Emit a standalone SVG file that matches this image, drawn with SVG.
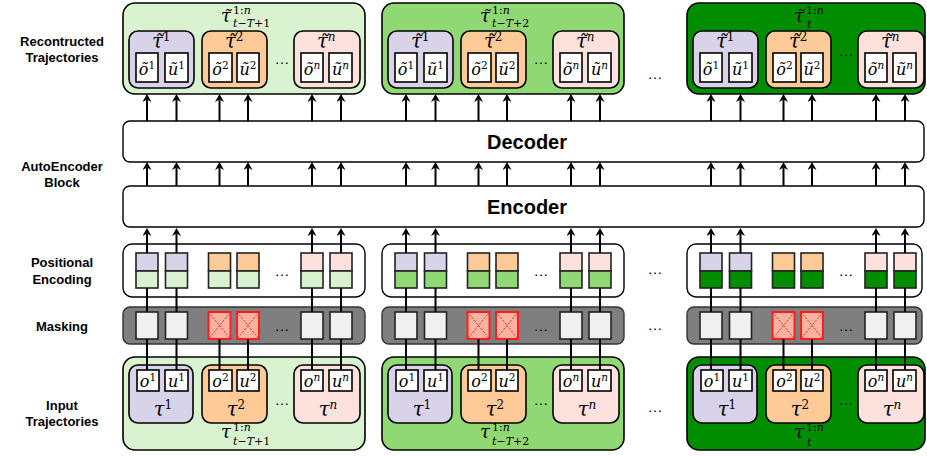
<svg xmlns="http://www.w3.org/2000/svg" xmlns:xlink="http://www.w3.org/1999/xlink" width="927" height="456" viewBox="0 0 927 456">
  <style>
    .side { font-family: "Liberation Sans", Arial, sans-serif; font-weight: bold; font-size: 13px; text-anchor: middle; fill: #000; }
    .big { font-family: "Liberation Sans", Arial, sans-serif; font-weight: bold; font-size: 20px; text-anchor: middle; fill: #000; }
    .m { font-family: "DejaVu Serif", "Liberation Serif", serif; font-style: italic; fill: #000; }
    .mc { text-anchor: middle; }
    .cellt { font-size: 16px; }
    .csup { font-size: 10.5px; }
    .lbl { font-size: 19.5px; }
    .ttl { font-size: 18px; }
    .sm { font-size: 11px; }
    .lsup { font-size: 12px; }
    .up { font-style: normal; }
    .dots { font-family: "Liberation Sans", Arial, sans-serif; font-size: 15px; text-anchor: middle; fill: #000; }
    .outer { stroke: #000; stroke-width: 1.6; }
    .inner { stroke: #000; stroke-width: 1.6; }
    .cell { fill: #fff; stroke: #000; stroke-width: 1.6; }
    .box { fill: #fff; stroke: #000; stroke-width: 1.4; }
    .g1 { fill: #d9f2d0; }
    .g2 { fill: #8fd874; }
    .g3 { fill: #008e00; }
    .c1 { fill: #d9d3e9; }
    .c2 { fill: #fdca98; }
    .cn { fill: #fde1dc; }
    .sq { stroke: #222; stroke-width: 1.6; }
    .maskbg { fill: #7f7f7f; stroke: #333; stroke-width: 1.4; }
    .keep { fill: #f0f0f0; stroke: #222; stroke-width: 1.6; }
    .drop { fill: #f9b3a0; stroke: #ff1e1e; stroke-width: 2; }
    .cross { stroke: #ff1e1e; stroke-width: 1; stroke-dasharray: 2 1.5; fill: none; }
    .wire { stroke: #000; stroke-width: 2; fill: none; }
    .arr { marker-end: url(#ah); }
  </style>
  <defs>
    <marker id="ah" viewBox="0 0 8 9" refX="2.5" refY="4.5" markerWidth="8" markerHeight="9" markerUnits="userSpaceOnUse" orient="auto">
      <path d="M0,0 L8,4.5 L0,9 L2.5,4.5 z" fill="#000"/>
    </marker>

    <!-- contents of a reconstructed trajectory block -->
    <g id="tpl-recon">
      <rect class="inner c1" x="129" y="31" width="65" height="57" rx="9"/>
      <rect class="inner c2" x="202" y="31" width="65" height="57" rx="9"/>
      <rect class="inner cn" x="294" y="31" width="66" height="57" rx="9"/>
      <text class="m lbl" x="152" y="48">τ<tspan class="lsup up" dy="-7">1</tspan></text>
      <text class="m lbl mc" x="158.5" y="49">˜</text>
      <text class="m lbl" x="225" y="48">τ<tspan class="lsup up" dy="-7">2</tspan></text>
      <text class="m lbl mc" x="231.5" y="49">˜</text>
      <text class="m lbl" x="317" y="48">τ<tspan class="lsup" dy="-7">n</tspan></text>
      <text class="m lbl mc" x="323.5" y="49">˜</text>
      <rect class="cell" x="136" y="53" width="22" height="29"/>
      <rect class="cell" x="165" y="53" width="23" height="29"/>
      <rect class="cell" x="209" y="53" width="23" height="29"/>
      <rect class="cell" x="237" y="53" width="22" height="29"/>
      <rect class="cell" x="301" y="53" width="22" height="29"/>
      <rect class="cell" x="329" y="53" width="23" height="29"/>
      <text class="m mc cellt" x="147" y="75">õ<tspan class="csup up" dy="-6">1</tspan></text>
      <text class="m mc cellt" x="176.5" y="75">ũ<tspan class="csup up" dy="-6">1</tspan></text>
      <text class="m mc cellt" x="220.5" y="75">õ<tspan class="csup up" dy="-6">2</tspan></text>
      <text class="m mc cellt" x="248" y="75">ũ<tspan class="csup up" dy="-6">2</tspan></text>
      <text class="m mc cellt" x="312" y="75">õ<tspan class="csup" dy="-6">n</tspan></text>
      <text class="m mc cellt" x="340.5" y="75">ũ<tspan class="csup" dy="-6">n</tspan></text>
    </g>

    <!-- positional encoding squares; lower halves follow the color attribute -->
    <g id="tpl-pe">
      <rect class="sq c1" x="136" y="253" width="22" height="18"/>
      <rect class="sq c1" x="165.5" y="253" width="22" height="18"/>
      <rect class="sq c2" x="208.5" y="253" width="22" height="18"/>
      <rect class="sq c2" x="237" y="253" width="22" height="18"/>
      <rect class="sq cn" x="301" y="253" width="22" height="18"/>
      <rect class="sq cn" x="330" y="253" width="22" height="18"/>
      <g fill="currentColor">
        <rect class="sq" x="136" y="271" width="22" height="17"/>
        <rect class="sq" x="165.5" y="271" width="22" height="17"/>
        <rect class="sq" x="208.5" y="271" width="22" height="17"/>
        <rect class="sq" x="237" y="271" width="22" height="17"/>
        <rect class="sq" x="301" y="271" width="22" height="17"/>
        <rect class="sq" x="330" y="271" width="22" height="17"/>
      </g>
      <text class="dots" x="282" y="276">…</text>
    </g>

    <!-- masking cells -->
    <g id="tpl-mask">
      <rect class="keep" x="136" y="312" width="22" height="27"/>
      <rect class="keep" x="165.5" y="312" width="22" height="27"/>
      <rect class="drop" x="208.5" y="312" width="22" height="27"/>
      <path class="cross" d="M208.5,312 L230.5,339 M230.5,312 L208.5,339"/>
      <rect class="drop" x="237" y="312" width="22" height="27"/>
      <path class="cross" d="M237,312 L259,339 M259,312 L237,339"/>
      <rect class="keep" x="301" y="312" width="22" height="27"/>
      <rect class="keep" x="330" y="312" width="22" height="27"/>
      <text class="dots" x="282" y="331">…</text>
    </g>

    <!-- contents of an input trajectory block -->
    <g id="tpl-input">
      <rect class="inner c1" x="129" y="365" width="64" height="58" rx="9"/>
      <rect class="inner c2" x="202" y="365" width="65" height="58" rx="9"/>
      <rect class="inner cn" x="294" y="365" width="66" height="58" rx="9"/>
      <rect class="cell" x="137" y="370" width="22" height="21"/>
      <rect class="cell" x="165" y="370" width="23" height="21"/>
      <rect class="cell" x="209" y="370" width="23" height="21"/>
      <rect class="cell" x="237" y="370" width="22" height="21"/>
      <rect class="cell" x="301" y="370" width="22" height="21"/>
      <rect class="cell" x="329" y="370" width="23" height="21"/>
      <text class="m mc cellt" x="148" y="386.5">o<tspan class="csup up" dy="-6">1</tspan></text>
      <text class="m mc cellt" x="176.5" y="386.5">u<tspan class="csup up" dy="-6">1</tspan></text>
      <text class="m mc cellt" x="220.5" y="386.5">o<tspan class="csup up" dy="-6">2</tspan></text>
      <text class="m mc cellt" x="248" y="386.5">u<tspan class="csup up" dy="-6">2</tspan></text>
      <text class="m mc cellt" x="312" y="386.5">o<tspan class="csup" dy="-6">n</tspan></text>
      <text class="m mc cellt" x="340.5" y="386.5">u<tspan class="csup" dy="-6">n</tspan></text>
      <text class="m mc lbl" x="163" y="416">τ<tspan class="lsup up" dy="-7">1</tspan></text>
      <text class="m mc lbl" x="236" y="416">τ<tspan class="lsup up" dy="-7">2</tspan></text>
      <text class="m mc lbl" x="328" y="416">τ<tspan class="lsup" dy="-7">n</tspan></text>
      <text class="dots" x="282" y="405">…</text>
    </g>

    <!-- wiring for one block of six token columns -->
    <g id="tpl-wires">
      <!-- kept tokens: input through mask and encoding into the encoder -->
      <path class="wire" d="M147,370 V339 M147,312 V288"/>
      <path class="wire arr" d="M147,253 V233.5"/>
      <path class="wire" d="M176.5,370 V339 M176.5,312 V288"/>
      <path class="wire arr" d="M176.5,253 V233.5"/>
      <path class="wire" d="M312,370 V339 M312,312 V288"/>
      <path class="wire arr" d="M312,253 V233.5"/>
      <path class="wire" d="M341,370 V339 M341,312 V288"/>
      <path class="wire arr" d="M341,253 V233.5"/>
      <!-- masked tokens stop at the mask -->
      <path class="wire" d="M219.5,370 V339"/>
      <path class="wire" d="M248,370 V339"/>
      <!-- encoder to decoder -->
      <path class="wire arr" d="M147,186 V167.5"/>
      <path class="wire arr" d="M176.5,186 V167.5"/>
      <path class="wire arr" d="M219.5,186 V167.5"/>
      <path class="wire arr" d="M248,186 V167.5"/>
      <path class="wire arr" d="M312,186 V167.5"/>
      <path class="wire arr" d="M341,186 V167.5"/>
      <!-- decoder to reconstruction -->
      <path class="wire arr" d="M147,121 V99.5"/>
      <path class="wire arr" d="M176.5,121 V99.5"/>
      <path class="wire arr" d="M219.5,121 V99.5"/>
      <path class="wire arr" d="M248,121 V99.5"/>
      <path class="wire arr" d="M312,121 V99.5"/>
      <path class="wire arr" d="M341,121 V99.5"/>
    </g>
  </defs>

  <rect width="927" height="456" fill="#fff"/>

  <!-- row labels -->
  <g id="row-labels">
    <text class="side" x="62" y="45.5">Recontructed</text>
    <text class="side" x="62" y="61.5">Trajectories</text>
    <text class="side" x="62" y="170.5">AutoEncoder</text>
    <text class="side" x="62" y="186.5">Block</text>
    <text class="side" x="62" y="266.5">Positional</text>
    <text class="side" x="62" y="283.5">Encoding</text>
    <text class="side" x="62" y="330.5">Masking</text>
    <text class="side" x="62" y="409.5">Input</text>
    <text class="side" x="62" y="425.5">Trajectories</text>
  </g>

  <!-- reconstructed trajectories -->
  <g id="recon-1">
    <rect class="outer g1" x="123" y="3" width="242" height="91" rx="12"/>
    <use xlink:href="#tpl-recon"/>
    <text class="m ttl" x="221" y="22">τ</text>
    <text class="m ttl mc" x="227" y="23">˜</text>
    <text class="m sm" x="233" y="14"><tspan class="up">1:</tspan>n</text>
    <text class="m sm" x="233" y="27">t−T<tspan class="up">+1</tspan></text>
    <text class="dots" x="282" y="64">…</text>
  </g>
  <g id="recon-2">
    <rect class="outer g2" x="382" y="3" width="242" height="91" rx="12"/>
    <use xlink:href="#tpl-recon" x="259"/>
    <text class="m ttl" x="480" y="22">τ</text>
    <text class="m ttl mc" x="486" y="23">˜</text>
    <text class="m sm" x="492" y="14"><tspan class="up">1:</tspan>n</text>
    <text class="m sm" x="492" y="27">t−T<tspan class="up">+2</tspan></text>
    <text class="dots" x="541" y="64">…</text>
  </g>
  <g id="recon-3">
    <rect class="outer g3" x="687" y="3" width="238" height="91" rx="12"/>
    <use xlink:href="#tpl-recon" x="564"/>
    <text class="m ttl" x="794" y="22">τ</text>
    <text class="m ttl mc" x="800" y="23">˜</text>
    <text class="m sm" x="806" y="14"><tspan class="up">1:</tspan>n</text>
    <text class="m sm" x="807" y="28">t</text>
    <text class="dots" x="846" y="56">…</text>
  </g>

  <!-- autoencoder -->
  <g id="decoder">
    <rect class="box" x="123" y="121" width="801" height="41" rx="7"/>
    <text class="big" x="527" y="149">Decoder</text>
  </g>
  <g id="encoder">
    <rect class="box" x="123" y="186" width="801" height="41" rx="7"/>
    <text class="big" x="527" y="214">Encoder</text>
  </g>

  <!-- positional encoding -->
  <g id="pe-1">
    <rect class="box" x="123" y="244" width="242" height="53" rx="9"/>
    <use xlink:href="#tpl-pe" color="#d9f2d0"/>
  </g>
  <g id="pe-2">
    <rect class="box" x="382" y="244" width="242" height="53" rx="9"/>
    <use xlink:href="#tpl-pe" x="259" color="#8fd874"/>
  </g>
  <g id="pe-3">
    <rect class="box" x="687" y="244" width="235" height="53" rx="9"/>
    <use xlink:href="#tpl-pe" x="564" color="#008e00"/>
  </g>

  <!-- masking -->
  <g id="mask-1">
    <rect class="maskbg" x="123" y="307" width="242" height="37" rx="7"/>
    <use xlink:href="#tpl-mask"/>
  </g>
  <g id="mask-2">
    <rect class="maskbg" x="382" y="307" width="242" height="37" rx="7"/>
    <use xlink:href="#tpl-mask" x="259"/>
  </g>
  <g id="mask-3">
    <rect class="maskbg" x="687" y="307" width="235" height="37" rx="7"/>
    <use xlink:href="#tpl-mask" x="564"/>
  </g>

  <!-- input trajectories -->
  <g id="input-1">
    <rect class="outer g1" x="123" y="357" width="242" height="93" rx="12"/>
    <use xlink:href="#tpl-input"/>
    <text class="m ttl" x="221" y="438">τ</text>
    <text class="m sm" x="233" y="431"><tspan class="up">1:</tspan>n</text>
    <text class="m sm" x="233" y="445">t−T<tspan class="up">+1</tspan></text>
  </g>
  <g id="input-2">
    <rect class="outer g2" x="382" y="357" width="242" height="93" rx="12"/>
    <use xlink:href="#tpl-input" x="259"/>
    <text class="m ttl" x="480" y="438">τ</text>
    <text class="m sm" x="492" y="431"><tspan class="up">1:</tspan>n</text>
    <text class="m sm" x="492" y="445">t−T<tspan class="up">+2</tspan></text>
  </g>
  <g id="input-3">
    <rect class="outer g3" x="687" y="357" width="238" height="93" rx="12"/>
    <use xlink:href="#tpl-input" x="564"/>
    <text class="m ttl" x="794" y="438">τ</text>
    <text class="m sm" x="806" y="431"><tspan class="up">1:</tspan>n</text>
    <text class="m sm" x="807" y="446">t</text>
  </g>

  <!-- ellipses between blocks -->
  <g id="block-gaps">
    <text class="dots" x="655" y="79">…</text>
    <text class="dots" x="655" y="274">…</text>
    <text class="dots" x="655" y="330">…</text>
    <text class="dots" x="655" y="412">…</text>
  </g>

  <!-- connectors -->
  <g id="connectors">
    <use xlink:href="#tpl-wires"/>
    <use xlink:href="#tpl-wires" x="259"/>
    <use xlink:href="#tpl-wires" x="564"/>
  </g>
</svg>
